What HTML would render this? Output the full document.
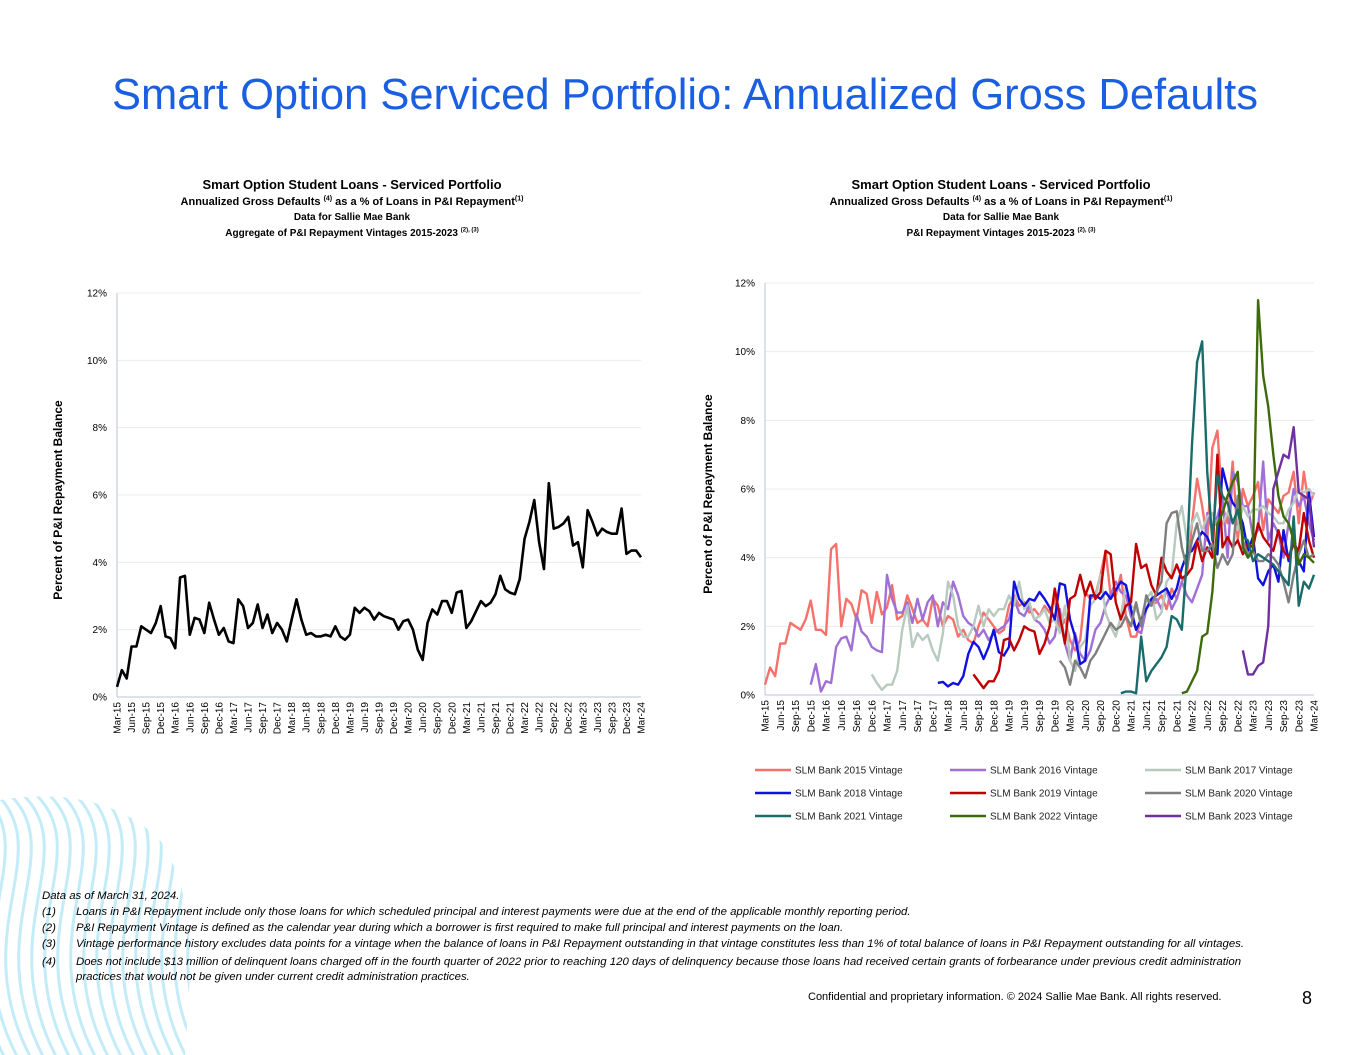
<!DOCTYPE html>
<html><head><meta charset="utf-8"><style>
body{margin:0;width:1365px;height:1055px;background:#fff;position:relative;overflow:hidden;font-family:"Liberation Sans",sans-serif;}
.abs{position:absolute}
.ct{position:absolute;text-align:center;font-weight:bold;color:#000;width:600px}
.fn{position:absolute;font-size:11.4px;font-style:italic;color:#000;white-space:nowrap}
</style></head><body>
<svg class="abs" style="left:0;top:0" width="1365" height="1055">
<defs><clipPath id="wc"><path d="M0,800 C60,790 120,800 160,840 C200,900 190,980 185,1055 L0,1055 Z"/></clipPath></defs>
<g clip-path="url(#wc)" fill="none" stroke="#c4ecf8" stroke-width="3" id="waves"></g>
</svg>
<div class="abs" style="left:0;width:1370px;top:71px;text-align:center;font-size:43.5px;color:#1a5fe0;">Smart Option Serviced Portfolio: Annualized Gross Defaults</div>

<div class="ct" style="left:52px;top:178px;line-height:14px"><span style="font-size:13px">Smart Option Student Loans - Serviced Portfolio</span><br><span style="font-size:11px">Annualized Gross Defaults <sup style="font-size:7px">(4)</sup> as a % of Loans in P&amp;I Repayment<sup style="font-size:7px">(1)</sup></span><br><span style="font-size:10px;line-height:12px">Data for Sallie Mae Bank</span><br><span style="font-size:10px">Aggregate of P&amp;I Repayment Vintages 2015-2023 <sup style="font-size:6px">(2), (3)</sup></span></div>
<div class="ct" style="left:701px;top:178px;line-height:14px"><span style="font-size:13px">Smart Option Student Loans - Serviced Portfolio</span><br><span style="font-size:11px">Annualized Gross Defaults <sup style="font-size:7px">(4)</sup> as a % of Loans in P&amp;I Repayment<sup style="font-size:7px">(1)</sup></span><br><span style="font-size:10px;line-height:12px">Data for Sallie Mae Bank</span><br><span style="font-size:10px">P&amp;I Repayment Vintages 2015-2023 <sup style="font-size:6px">(2), (3)</sup></span></div>

<svg class="abs" style="left:0;top:0" width="1365" height="1055" id="charts" font-family="Liberation Sans, sans-serif"></svg>

<div class="fn" style="left:42px;top:890px">Data as of March 31, 2024.</div>
<div class="fn" style="left:42px;top:906px">(1)<span style="position:absolute;left:34px">Loans in P&amp;I Repayment include only those loans for which scheduled principal and interest payments were due at the end of the applicable monthly reporting period.</span></div>
<div class="fn" style="left:42px;top:922px">(2)<span style="position:absolute;left:34px">P&amp;I Repayment Vintage is defined as the calendar year during which a borrower is first required to make full principal and interest payments on the loan.</span></div>
<div class="fn" style="left:42px;top:938px">(3)<span style="position:absolute;left:34px">Vintage performance history excludes data points for a vintage when the balance of loans in P&amp;I Repayment outstanding in that vintage constitutes less than 1% of total balance of loans in P&amp;I Repayment outstanding for all vintages.</span></div>
<div class="fn" style="left:42px;top:955px;line-height:15px">(4)<span style="position:absolute;left:34px">Does not include $13 million of delinquent loans charged off in the fourth quarter of 2022 prior to reaching 120 days of delinquency because those loans had received certain grants of forbearance under previous credit administration<br>practices that would not be given under current credit administration practices.</span></div>
<div class="abs" style="left:808px;top:991px;font-size:11px">Confidential and proprietary information. © 2024 Sallie Mae Bank. All rights reserved.</div>
<div class="abs" style="left:1302px;top:988px;font-size:18px">8</div>

<script>
const months=["Mar","Jun","Sep","Dec"];
const tickLabels=[];for(let y=15;y<=24;y++){for(const m of months){if(y===24&&m!=="Mar")continue;tickLabels.push(m+"-"+y);}}
const yTicks=[0,2,4,6,8,10,12];
const aggregate=[0.3,0.8,0.55,1.5,1.5,2.1,2.0,1.9,2.2,2.7,
1.8,1.75,1.45,3.55,3.6,1.85,2.35,2.3,1.9,2.8,
2.3,1.85,2.05,1.65,1.6,2.9,2.7,2.05,2.2,2.75,
2.05,2.45,1.9,2.2,2.0,1.65,2.3,2.9,2.3,1.85,
1.9,1.8,1.8,1.85,1.8,2.1,1.8,1.7,1.85,2.65,
2.5,2.65,2.55,2.3,2.5,2.4,2.35,2.3,2.0,2.25,
2.3,2.0,1.4,1.1,2.2,2.6,2.45,2.85,2.85,2.5,
3.1,3.15,2.05,2.25,2.55,2.85,2.7,2.8,3.05,3.6,
3.2,3.1,3.05,3.5,4.7,5.2,5.85,4.6,3.8,6.35,
5.0,5.05,5.15,5.35,4.5,4.6,3.85,5.55,5.2,4.8,
5.0,4.9,4.85,4.85,5.6,4.25,4.35,4.35,4.15];
const seriesNames=["SLM Bank 2015 Vintage","SLM Bank 2016 Vintage","SLM Bank 2017 Vintage","SLM Bank 2018 Vintage","SLM Bank 2019 Vintage","SLM Bank 2020 Vintage","SLM Bank 2021 Vintage","SLM Bank 2022 Vintage","SLM Bank 2023 Vintage"];
const seriesStart=[0,9,21,34,41,58,70,82,94];
const seriesColors=["#f4726b","#a070d6","#b8c9c0","#1010e0","#c00000","#7f7f7f","#1a6b6b","#3d6b0a","#7030a0"];
const v2015=[0.3,0.8,0.55,1.5,1.5,2.1,2.0,1.9,2.2,2.75,1.9,1.9,1.75,4.25,4.4,2.0,2.8,2.65,2.2,3.05,2.95,2.1,3.0,2.35,2.55,3.2,2.2,2.3,2.9,2.5,2.1,2.2,2.0,2.8,2.6,2.0,2.3,2.2,1.7,1.9,1.6,1.5,2.0,2.4,2.2,2.0,1.8,1.9,2.6,2.9,2.6,2.7,2.4,2.5,2.3,2.6,2.4,2.8,1.9,2.2,1.6,1.3,1.6,3.0,2.8,2.9,3.5,4.2,2.9,2.9,3.5,2.3,1.7,1.7,2.2,2.8,2.6,2.7,2.9,2.5,3.1,2.8,3.3,3.5,5.0,6.3,5.5,4.5,7.2,7.7,5.5,5.0,6.8,4.5,6.0,5.5,5.8,6.2,4.8,5.7,5.5,5.3,5.8,5.9,6.5,5.0,6.5,5.5,5.9];
const v2016=[0.3,0.9,0.1,0.4,0.35,1.4,1.65,1.7,1.3,2.35,1.85,1.7,1.4,1.3,1.25,3.5,2.8,2.4,2.4,2.7,2.1,2.8,2.2,2.7,2.9,2.0,2.7,2.5,3.3,2.9,2.3,2.1,2.0,1.7,1.9,1.6,1.8,1.9,2.0,2.2,2.8,2.4,2.3,2.6,2.2,2.1,1.9,1.5,1.7,2.5,1.5,1.0,1.8,1.2,1.0,1.3,1.9,2.1,2.6,2.9,3.3,3.0,2.9,2.3,1.9,1.8,2.5,2.7,2.8,2.5,3.1,2.5,2.8,3.3,2.9,2.7,3.1,3.5,5.3,4.8,5.2,5.7,4.0,6.5,6.2,5.5,5.5,4.6,4.8,6.8,4.5,5.0,4.7,4.0,5.0,6.0,5.5,5.8,5.0,4.5,4.2];
const v2017=[0.6,0.35,0.15,0.3,0.3,0.7,1.9,2.6,1.4,1.8,1.6,1.75,1.3,1.0,1.8,3.3,2.9,2.0,1.7,1.7,2.0,2.6,2.0,2.5,2.3,2.5,2.5,2.9,2.6,3.3,2.5,2.7,2.2,2.3,2.5,2.1,2.2,1.8,2.6,1.0,0.7,1.4,1.6,2.6,2.8,3.5,2.4,2.0,1.7,2.3,3.2,2.6,2.5,2.2,2.8,3.0,2.2,2.4,3.3,3.5,5.0,5.5,4.5,5.0,5.3,4.8,5.2,5.3,4.9,5.0,5.3,5.1,4.8,5.5,5.2,5.4,5.4,5.5,5.3,5.2,5.0,5.0,5.4,5.6,6.0,5.9,6.0,5.8];
const v2018=[0.35,0.38,0.25,0.35,0.3,0.55,1.2,1.55,1.4,1.05,1.4,1.9,1.25,1.15,1.4,3.3,2.8,2.6,2.8,2.75,3.0,2.8,2.55,2.2,3.25,3.2,2.2,1.7,0.9,1.0,2.9,2.9,2.8,3.0,2.8,3.05,3.3,3.2,2.5,1.9,2.2,2.5,2.8,2.9,3.0,3.1,2.8,3.1,3.7,4.1,4.2,4.5,4.75,4.6,4.2,4.1,6.6,6.0,5.6,5.4,5.0,4.2,4.6,3.4,3.2,3.6,3.8,3.3,4.8,3.9,4.6,3.9,3.6,5.9,4.6,4.4,5.5,5.4];
const v2019=[0.6,0.4,0.2,0.4,0.4,0.7,1.6,1.65,1.3,1.6,2.0,1.9,1.85,1.2,1.5,2.0,3.1,2.3,1.5,2.8,2.9,3.5,2.9,3.3,2.8,3.0,4.2,4.1,2.7,2.2,2.6,2.7,4.4,3.7,3.8,3.2,2.9,4.0,3.6,3.4,3.8,3.4,3.5,3.7,4.5,3.9,4.3,4.0,7.0,4.3,4.6,4.3,4.5,4.1,4.4,4.3,5.0,4.6,4.4,4.2,4.8,4.2,4.0,4.4,4.2,5.3,4.5,4.0];
const v2020=[1.0,0.8,0.3,1.0,0.8,0.5,1.0,1.2,1.5,1.8,2.1,1.9,2.0,2.3,2.0,2.7,2.0,2.9,2.6,3.0,3.3,5.0,5.3,5.35,4.3,3.7,4.5,5.0,4.2,4.2,4.4,3.7,4.1,3.8,4.1,5.8,4.5,4.1,4.2,3.9,3.9,4.1,4.0,3.8,3.3,2.7,3.5,4.1,4.5,4.0,4.1];
const v2021=[0.05,0.1,0.1,0.05,1.7,0.4,0.7,0.9,1.1,1.4,2.3,2.2,1.9,4.0,7.3,9.7,10.3,6.5,4.5,6.4,5.8,5.6,5.0,5.4,4.6,4.5,3.9,4.1,4.0,3.9,3.8,3.6,3.4,3.2,5.2,2.6,3.3,3.1,3.5];
const v2022=[0.05,0.1,0.4,0.7,1.7,1.8,3.0,5.0,5.3,5.8,6.2,6.5,4.3,4.0,4.2,11.5,9.3,8.4,7.0,5.8,5.2,5.0,4.5,3.8,4.1,4.0,3.85];
const v2023=[1.3,0.6,0.6,0.85,0.95,2.0,6.0,6.5,7.0,6.9,7.8,5.9,5.8,5.7,4.3];
const seriesValues=[v2015,v2016,v2017,v2018,v2019,v2020,v2021,v2022,v2023];

const svg=document.getElementById('charts');const NS="http://www.w3.org/2000/svg";
function mk(t,a,p){const e=document.createElementNS(NS,t);for(const k in a)e.setAttribute(k,a[k]);(p||svg).appendChild(e);return e;}
function axes(c){
  const xs=i=>c.x0+i*(c.x1-c.x0)/108, ys=v=>c.y0-v*(c.y0-c.y1)/12;
  const g=mk('g',{});
  
  
  yTicks.forEach(t=>{
    if(t>0){const l=mk('line',{x1:c.x0,x2:c.x1,y1:ys(t),y2:ys(t),stroke:'#ececec','stroke-width':1},g);}
    const tx=mk('text',{x:c.x0-10,y:ys(t)+3.5,'font-size':10,'text-anchor':'end',fill:'#000'},g);
    
    
    tx.textContent=t+'%';
  });
  mk('line',{x1:c.x0,x2:c.x0,y1:c.y1,y2:c.y0,stroke:'#b8c4d8','stroke-width':1},g);
  mk('line',{x1:c.x0,x2:c.x1,y1:c.y0,y2:c.y0,stroke:'#b8c4d8','stroke-width':1},g);
  tickLabels.forEach((lab,k)=>{
    const x=xs(k*3)+3.5,y=c.y0+5;
    const tx=mk('text',{x:x,y:y,'font-size':10,'text-anchor':'end',fill:'#000',transform:`rotate(-90 ${x} ${y})`},g);
    
    
    tx.textContent=lab;
  });
  const ax=c.yt, ay=(c.y0+c.y1)/2+5;
  const yt=mk('text',{x:ax,y:ay,'font-size':12,'font-weight':'bold','text-anchor':'middle',transform:`rotate(-90 ${ax} ${ay})`},g);
  
  
  yt.textContent='Percent of P&I Repayment  Balance';
  return [xs,ys];
}
const L={name:'left-chart',x0:117,x1:641,y0:697,y1:293,yt:62};
const [lx,ly]=axes(L);
const lp=mk('polyline',{points:aggregate.map((v,i)=>lx(i)+','+ly(v)).join(' '),fill:'none',stroke:'#000','stroke-width':2.6,'stroke-linejoin':'round'});



const R={name:'right-chart',x0:765,x1:1314,y0:695,y1:283,yt:712};
const [rx,ry]=axes(R);
seriesValues.forEach((vals,s)=>{
  const pts=[];vals.forEach((v,i)=>{const idx=seriesStart[s]+i;if(idx<=108)pts.push(rx(idx)+','+ry(v));});
  const p=mk('polyline',{points:pts.join(' '),fill:'none',stroke:seriesColors[s],'stroke-width':2.4,'stroke-linejoin':'round'});
  
  
  const col=s%3,row=Math.floor(s/3);
  const lx0=755+col*195,ly0=770+row*23;
  const lg=mk('g',{});
  
  
  mk('line',{x1:lx0,x2:lx0+36,y1:ly0,y2:ly0,stroke:seriesColors[s],'stroke-width':2.6},lg);
  const t=mk('text',{x:lx0+40,y:ly0+3.5,'font-size':10,fill:'#222'},lg);t.textContent=seriesNames[s];
});
const wg=document.getElementById('waves');
for(let k=0;k<20;k++){const x=-60+k*13;
  const p=document.createElementNS(NS,'path');
  p.setAttribute('d',`M${x},790 C${x+70},850 ${x-30},930 ${x+40},1060`);
  
  
  wg.appendChild(p);}
</script>
</body></html>
